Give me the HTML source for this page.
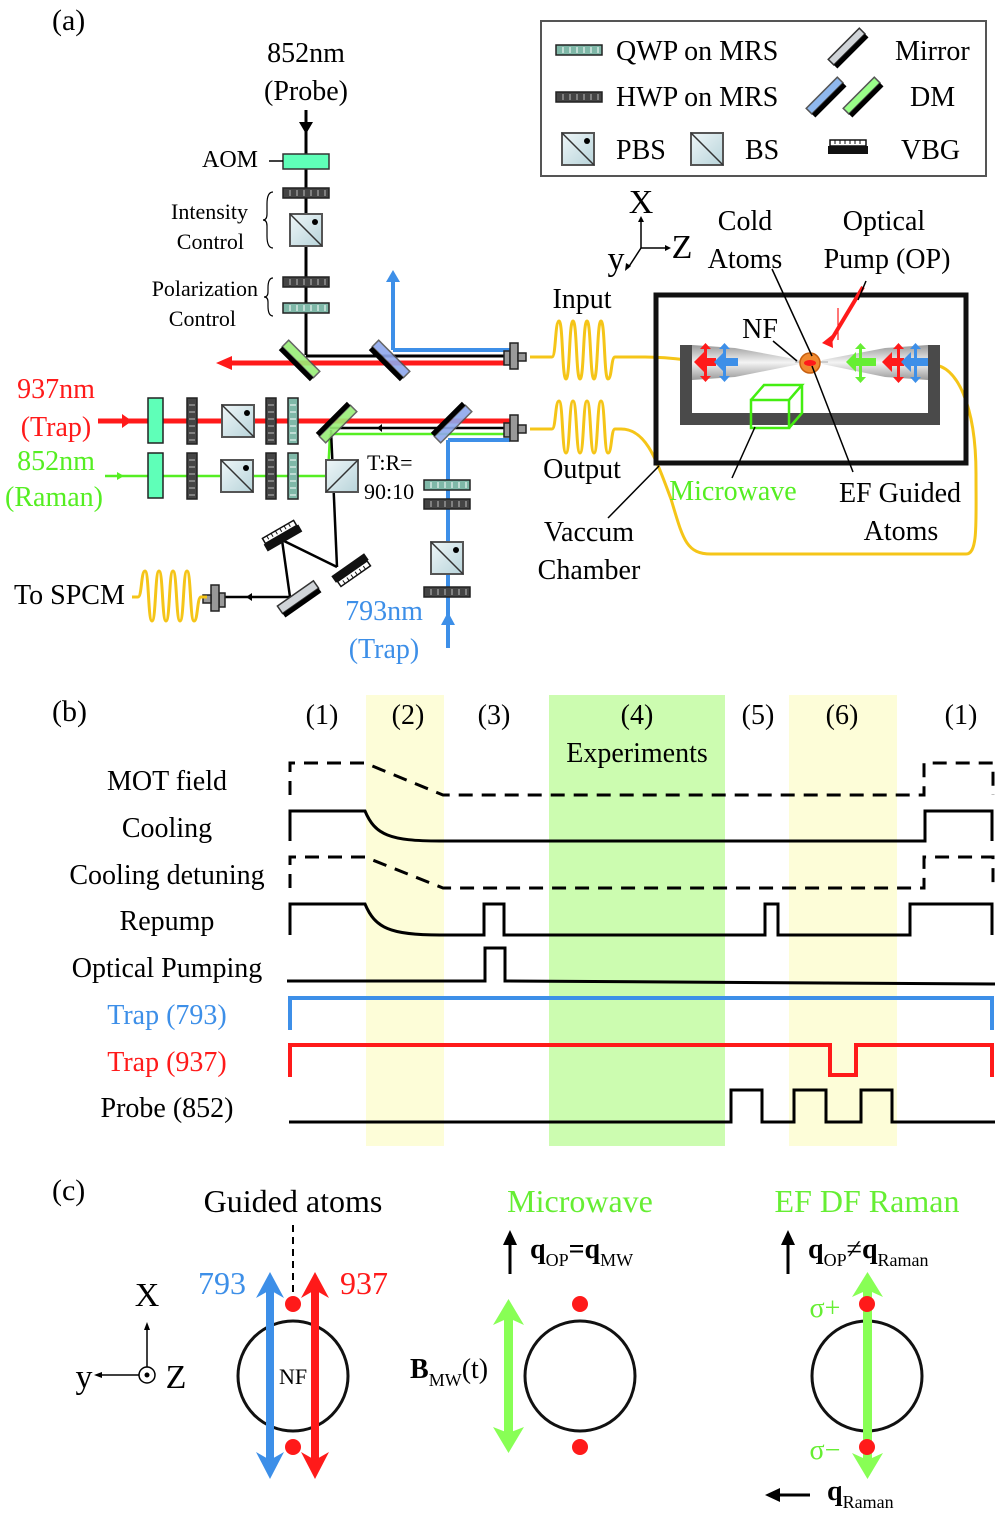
<!DOCTYPE html>
<html><head><meta charset="utf-8"><style>
html,body{margin:0;padding:0;background:#fff;}
svg, svg text{font-family:"Liberation Serif","DejaVu Serif","Times New Roman",serif;}
svg{display:block;}
</style></head><body>
<svg width="996" height="1520" viewBox="0 0 996 1520" xmlns="http://www.w3.org/2000/svg" font-family="Liberation Serif, DejaVu Serif, serif">
<defs>
  <g id="hwp"><rect x="-23" y="-5" width="46" height="10" fill="#444" stroke="#222" stroke-width="1.5"/><g stroke="#bbb" stroke-width="1"><line x1="-16" y1="-3" x2="-16" y2="3"/><line x1="-9" y1="-3" x2="-9" y2="3"/><line x1="-2" y1="-3" x2="-2" y2="3"/><line x1="5" y1="-3" x2="5" y2="3"/><line x1="12" y1="-3" x2="12" y2="3"/><line x1="19" y1="-3" x2="19" y2="3"/></g></g>
  <g id="qwp"><rect x="-23" y="-5" width="46" height="10" fill="#7fb8a8" stroke="#222" stroke-width="1.5"/><g stroke="#fff" stroke-width="1"><line x1="-16" y1="-3" x2="-16" y2="3"/><line x1="-9" y1="-3" x2="-9" y2="3"/><line x1="-2" y1="-3" x2="-2" y2="3"/><line x1="5" y1="-3" x2="5" y2="3"/><line x1="12" y1="-3" x2="12" y2="3"/><line x1="19" y1="-3" x2="19" y2="3"/></g></g>
  <linearGradient id="bsg" x1="0" y1="0" x2="1" y2="1"><stop offset="0" stop-color="#eef6f8"/><stop offset="1" stop-color="#b8d4da"/></linearGradient>
  <g id="bs"><rect x="-16" y="-16" width="32" height="32" fill="url(#bsg)" stroke="#555" stroke-width="2"/><line x1="-16" y1="-16" x2="16" y2="16" stroke="#333" stroke-width="1.5"/></g>
  <g id="pbs"><use href="#bs"/><circle cx="9" cy="-8" r="3" fill="#000"/></g>
  <g id="bs2"><rect x="-16" y="-16" width="32" height="32" fill="url(#bsg)" stroke="#555" stroke-width="2"/><line x1="-16" y1="16" x2="16" y2="-16" stroke="#333" stroke-width="1.5"/></g>
  <g id="cpl"><rect x="-12" y="-4" width="6" height="14" fill="#999" stroke="#222" stroke-width="1.5"/><rect x="-6" y="-12" width="8" height="26" fill="#999" stroke="#222" stroke-width="1.5"/><rect x="2" y="-2" width="8" height="8" fill="#999" stroke="#222" stroke-width="1.5"/></g>
  <g id="vbg"><rect x="-20" y="-4" width="40" height="8" fill="#111"/><rect x="-18" y="-10" width="36" height="6" fill="#fff" stroke="#111" stroke-width="1.5"/><g stroke="#111" stroke-width="1"><line x1="-13" y1="-10" x2="-13" y2="-6"/><line x1="-8" y1="-10" x2="-8" y2="-6"/><line x1="-3" y1="-10" x2="-3" y2="-6"/><line x1="2" y1="-10" x2="2" y2="-6"/><line x1="7" y1="-10" x2="7" y2="-6"/><line x1="12" y1="-10" x2="12" y2="-6"/></g></g>
  <linearGradient id="cone" x1="0" y1="0" x2="0" y2="1"><stop offset="0" stop-color="#999"/><stop offset="0.5" stop-color="#f4f4f4"/><stop offset="1" stop-color="#999"/></linearGradient>
</defs>

<text x="52" y="30" font-size="30">(a)</text>

<rect x="541" y="21" width="445" height="155" fill="#fff" stroke="#555" stroke-width="2"/>
<use href="#qwp" x="579" y="50"/>
<text x="616" y="60" font-size="28">QWP on MRS</text>
<use href="#hwp" x="579" y="97"/>
<text x="616" y="106" font-size="28">HWP on MRS</text>
<use href="#pbs" x="578" y="149"/>
<text x="616" y="159" font-size="28">PBS</text>
<use href="#bs" x="707" y="149"/>
<text x="745" y="159" font-size="28">BS</text>
<g transform="translate(848,48) rotate(-45)"><rect x="-22" y="-6" width="44" height="8" fill="#d0d4d8" stroke="#333" stroke-width="1.5"/><rect x="-22" y="2" width="44" height="5" fill="#000"/></g>
<text x="895" y="60" font-size="28">Mirror</text>
<g transform="translate(826,97) rotate(-45)"><rect x="-22" y="-6" width="44" height="8" fill="#8fb8ee" stroke="#555" stroke-width="1.5"/><rect x="-22" y="2" width="44" height="5" fill="#000"/></g>
<g transform="translate(863,97) rotate(-45)"><rect x="-22" y="-6" width="44" height="8" fill="#99ff88" stroke="#555" stroke-width="1.5"/><rect x="-22" y="2" width="44" height="5" fill="#000"/></g>
<text x="910" y="106" font-size="28">DM</text>
<use href="#vbg" x="848" y="150"/>
<text x="901" y="159" font-size="28">VBG</text>

<text x="306" y="62" font-size="28" text-anchor="middle">852nm</text>
<text x="306" y="100" font-size="28" text-anchor="middle">(Probe)</text>
<line x1="306" y1="110" x2="306" y2="355" stroke="#000" stroke-width="3"/>
<polygon points="299,122 313,122 306,134" fill="#000"/>
<rect x="283" y="154" width="46" height="15" fill="#5fffb8" stroke="#333" stroke-width="1.5"/>
<text x="258" y="167" font-size="24" text-anchor="end">AOM</text>
<line x1="269" y1="161" x2="283" y2="161" stroke="#000" stroke-width="1.5"/>
<use href="#hwp" x="306" y="193"/>
<use href="#pbs" x="306" y="230"/>
<text x="248" y="219" font-size="22" text-anchor="end">Intensity</text>
<text x="244" y="249" font-size="22" text-anchor="end">Control</text>
<path d="M273,192 q-6,0 -6,12 v10 q0,6 -4,6 q4,0 4,6 v10 q0,12 6,12" fill="none" stroke="#000" stroke-width="1.2"/>
<use href="#hwp" x="306" y="282"/>
<use href="#qwp" x="306" y="308"/>
<text x="258" y="296" font-size="22" text-anchor="end">Polarization</text>
<text x="236" y="326" font-size="22" text-anchor="end">Control</text>
<path d="M273,278 q-5,0 -5,10 v4 q0,5 -4,5 q4,0 4,5 v4 q0,10 5,10" fill="none" stroke="#000" stroke-width="1.2"/>

<line x1="393" y1="282" x2="393" y2="350" stroke="#3d8fe8" stroke-width="4"/>
<polygon points="386,282 400,282 393,270" fill="#3d8fe8"/>
<line x1="393" y1="350" x2="510" y2="350" stroke="#3d8fe8" stroke-width="4"/>
<line x1="306" y1="356" x2="510" y2="356" stroke="#000" stroke-width="3"/>
<line x1="232" y1="363" x2="510" y2="363" stroke="#ff1a1a" stroke-width="5"/>
<polygon points="232,356 232,370 216,363" fill="#ff1a1a"/>
<g transform="translate(300,360) rotate(45)"><rect x="-22" y="-6" width="44" height="9" fill="#99ee77" stroke="#555" stroke-width="1.5" opacity="0.9"/><rect x="-22" y="3" width="44" height="5" fill="#000"/></g>
<g transform="translate(390,360) rotate(45)"><rect x="-22" y="-6" width="44" height="9" fill="#8fa8ee" stroke="#555" stroke-width="1.5" opacity="0.9"/><rect x="-22" y="3" width="44" height="5" fill="#000"/></g>
<use href="#cpl" x="516" y="355"/>

<text x="56" y="398" font-size="28" fill="#ff1a1a" text-anchor="middle">937nm</text>
<text x="56" y="436" font-size="28" fill="#ff1a1a" text-anchor="middle">(Trap)</text>
<text x="56" y="470" font-size="28" fill="#55ee22" text-anchor="middle">852nm</text>
<text x="54" y="506" font-size="28" fill="#55ee22" text-anchor="middle">(Raman)</text>
<line x1="98" y1="421" x2="510" y2="421" stroke="#ff1a1a" stroke-width="5"/>
<polygon points="122,414 122,428 132,421" fill="#ff1a1a"/>
<line x1="105" y1="476" x2="340" y2="476" stroke="#55ee22" stroke-width="2.5"/>
<polygon points="117,472 117,480 124,476" fill="#55ee22"/>
<rect x="148" y="398" width="15" height="45" fill="#5fffb8" stroke="#222" stroke-width="1.5"/>
<rect x="148" y="453" width="15" height="45" fill="#5fffb8" stroke="#222" stroke-width="1.5"/>
<use href="#hwp" transform="translate(192,421) rotate(90)"/>
<use href="#hwp" transform="translate(192,476) rotate(90)"/>
<use href="#pbs" x="238" y="421"/>
<use href="#pbs" x="237" y="476"/>
<use href="#hwp" transform="translate(271,421) rotate(90)"/>
<use href="#hwp" transform="translate(271,476) rotate(90)"/>
<use href="#qwp" transform="translate(293,421) rotate(90)"/>
<use href="#qwp" transform="translate(293,476) rotate(90)"/>

<line x1="330" y1="428" x2="510" y2="428" stroke="#000" stroke-width="2.5"/>
<polygon points="382,424 382,432 377,428" fill="#000"/>
<line x1="330" y1="434" x2="510" y2="434" stroke="#55ee22" stroke-width="2.5"/>
<line x1="330" y1="434" x2="328" y2="476" stroke="#55ee22" stroke-width="2.5"/>
<line x1="448" y1="440" x2="510" y2="440" stroke="#3d8fe8" stroke-width="4"/>
<line x1="448" y1="440" x2="448" y2="648" stroke="#3d8fe8" stroke-width="4"/>
<polygon points="441,625 455,625 448,612" fill="#3d8fe8"/>
<line x1="331" y1="430" x2="337" y2="567" stroke="#000" stroke-width="2.5"/>
<g transform="translate(337,423) rotate(-45)"><rect x="-22" y="-3" width="44" height="9" fill="#99ee77" stroke="#555" stroke-width="1.5" opacity="0.9"/><rect x="-22" y="-8" width="44" height="5" fill="#000"/></g>
<g transform="translate(452,423) rotate(-45)"><rect x="-22" y="-3" width="44" height="9" fill="#8fa8ee" stroke="#555" stroke-width="1.5" opacity="0.9"/><rect x="-22" y="-8" width="44" height="5" fill="#000"/></g>
<use href="#bs2" x="342" y="476"/>
<use href="#cpl" x="516" y="427"/>
<text x="367" y="470" font-size="22">T:R=</text>
<text x="364" y="499" font-size="22">90:10</text>
<use href="#qwp" x="447" y="485"/>
<use href="#hwp" x="447" y="504"/>
<use href="#pbs" x="447" y="558"/>
<use href="#hwp" x="447" y="592"/>
<text x="384" y="620" font-size="28" fill="#3d8fe8" text-anchor="middle">793nm</text>
<text x="384" y="658" font-size="28" fill="#3d8fe8" text-anchor="middle">(Trap)</text>

<line x1="337" y1="567" x2="282" y2="540" stroke="#000" stroke-width="2.5"/>
<line x1="282" y1="540" x2="290" y2="597" stroke="#000" stroke-width="2.5"/>
<line x1="222" y1="597" x2="290" y2="597" stroke="#000" stroke-width="2.5"/>
<polygon points="252,593 252,601 246,597" fill="#000"/>
<use href="#vbg" transform="translate(283,538) rotate(-30)"/>
<use href="#vbg" transform="translate(350,568) rotate(-35) scale(1,-1)"/>
<g transform="translate(300,600) rotate(-35)"><rect x="-22" y="-8" width="44" height="9" fill="#d0d4d8" stroke="#333" stroke-width="1.5"/><rect x="-22" y="1" width="44" height="5" fill="#000"/></g>
<use href="#cpl" transform="translate(213,597) scale(-1,1)"/>
<text x="14" y="604" font-size="28">To SPCM</text>
<path d="M132,597 h6 c4,0 3,-26 7,-26 s3,50 7,50 s3,-50 7,-50 s3,50 7,50 s3,-50 7,-50 s3,50 7,50 s3,-50 7,-50 s3,50 7,50 c4,0 3,-24 7,-24 h6" fill="none" stroke="#f5c518" stroke-width="3"/>

<path d="M530,357 h22 c4,0 3,-36 7,-36 s3,58 7,58 s3,-58 7,-58 s3,58 7,58 s3,-58 7,-58 s3,58 7,58 s3,-58 7,-58 s3,58 7,58 c4,0 3,-22 7,-22 h30 c40,0 55,8 80,4" fill="none" stroke="#f5c518" stroke-width="3"/>
<path d="M530,429 h22 c4,0 3,-28 7,-28 s3,52 7,52 s3,-52 7,-52 s3,52 7,52 s3,-52 7,-52 s3,52 7,52 s3,-52 7,-52 s3,52 7,52 c4,0 3,-24 7,-24 h6 c25,0 35,30 50,70 c12,40 15,55 40,55 h255 c12,0 10,-30 10,-80 c0,-70 -20,-109 -43,-109" fill="none" stroke="#f5c518" stroke-width="3"/>
<text x="582" y="308" font-size="28" text-anchor="middle">Input</text>
<text x="582" y="478" font-size="28" text-anchor="middle">Output</text>

<rect x="656" y="295" width="310" height="168" fill="none" stroke="#111" stroke-width="5"/>
<path d="M680,345 h12 v68 h236 v-68 h12 v80 h-260 z" fill="#4a4a4a"/>
<polygon points="692,345 735,348 800,360 800,364 735,377 692,380" fill="url(#cone)"/>
<polygon points="928,345 885,348 822,360 822,364 885,377 928,380" fill="url(#cone)"/>
<line x1="795" y1="362" x2="828" y2="362" stroke="#ccc" stroke-width="2"/>
<circle cx="810" cy="363" r="10" fill="#f08a30" stroke="#c86010" stroke-width="1.5"/>
<ellipse cx="810" cy="363" rx="6" ry="3" fill="#ff1a1a"/>
<g fill="#ff1a1a"><polygon points="694,362 704,352 704,358 716,358 716,366 704,366 704,372"/><rect x="704" y="347" width="3" height="32"/><polygon points="700,349 705.5,343 711,349"/><polygon points="700,376 705.5,382 711,376"/></g>
<g fill="#3d8fe8"><polygon points="714,362 724,352 724,358 738,358 738,366 724,366 724,372"/><rect x="723" y="347" width="3" height="32"/><polygon points="719,349 724.5,343 730,349"/><polygon points="719,376 724.5,382 730,376"/></g>
<g fill="#66ee33"><polygon points="846,362 856,352 856,358 876,358 876,366 856,366 856,372"/><rect x="859" y="346" width="3" height="34"/><polygon points="855,349 860.5,343 866,349"/><polygon points="855,377 860.5,383 866,377"/></g>
<g fill="#ff1a1a"><polygon points="882,362 892,352 892,358 904,358 904,366 892,366 892,372"/><rect x="897" y="346" width="3" height="34"/><polygon points="893,349 898.5,343 904,349"/><polygon points="893,377 898.5,383 904,377"/></g>
<g fill="#3d8fe8"><polygon points="901,362 911,352 911,358 928,358 928,366 911,366 911,372"/><rect x="914" y="346" width="3" height="34"/><polygon points="910,349 915.5,343 921,349"/><polygon points="910,377 915.5,383 921,377"/></g>
<line x1="863" y1="287" x2="830" y2="342" stroke="#ff1a1a" stroke-width="4"/>
<polygon points="822,343 832,335 833,348" fill="#ff1a1a"/>
<line x1="838" y1="308" x2="838" y2="340" stroke="#ff1a1a" stroke-width="1.2"/>
<g fill="none" stroke="#44ee11" stroke-width="2.5"><rect x="751" y="400" width="38" height="28"/><path d="M751,400 l13,-15 h38 l-13,15 M802,385 v28 l-13,15"/></g>
<g stroke="#000" stroke-width="1.5"><line x1="772" y1="269" x2="812" y2="356"/><line x1="812" y1="366" x2="853" y2="472"/><line x1="773" y1="341" x2="797" y2="361"/><line x1="755" y1="427" x2="732" y2="478"/><line x1="659" y1="466" x2="608" y2="518"/><line x1="866" y1="281" x2="858" y2="300"/></g>
<text x="745" y="230" font-size="28" text-anchor="middle">Cold</text>
<text x="745" y="268" font-size="28" text-anchor="middle">Atoms</text>
<text x="884" y="230" font-size="28" text-anchor="middle">Optical</text>
<text x="887" y="268" font-size="28" text-anchor="middle">Pump (OP)</text>
<text x="760" y="338" font-size="28" text-anchor="middle">NF</text>
<text x="733" y="500" font-size="28" fill="#55ee22" text-anchor="middle">Microwave</text>
<text x="900" y="502" font-size="28" text-anchor="middle">EF Guided</text>
<text x="901" y="540" font-size="28" text-anchor="middle">Atoms</text>
<text x="589" y="541" font-size="28" text-anchor="middle">Vaccum</text>
<text x="589" y="579" font-size="28" text-anchor="middle">Chamber</text>
<g stroke="#000" stroke-width="1.5"><line x1="641" y1="248" x2="641" y2="220"/><line x1="641" y1="248" x2="667" y2="248"/><line x1="641" y1="248" x2="628" y2="268"/></g>
<polygon points="638,222 644,222 641,216" fill="#000"/><polygon points="665,245 665,251 671,248" fill="#000"/><polygon points="626,263 631,266 625,271" fill="#000"/>
<text x="641" y="213" font-size="34" text-anchor="middle">X</text>
<text x="682" y="258" font-size="34" text-anchor="middle">Z</text>
<text x="616" y="270" font-size="34" text-anchor="middle">y</text>

<text x="52" y="721" font-size="30">(b)</text>
<rect x="366" y="695" width="78" height="451" fill="#fdfdd8"/>
<rect x="549" y="695" width="176" height="451" fill="#ccfcb0"/>
<rect x="789" y="695" width="108" height="451" fill="#fdfdd8"/>
<g font-size="28" text-anchor="middle">
<text x="322" y="724">(1)</text><text x="408" y="724">(2)</text><text x="494" y="724">(3)</text><text x="637" y="724">(4)</text>
<text x="637" y="762">Experiments</text><text x="758" y="724">(5)</text><text x="842" y="724">(6)</text><text x="961" y="724">(1)</text>
<text x="167" y="790">MOT field</text>
<text x="167" y="837">Cooling</text>
<text x="167" y="884">Cooling detuning</text>
<text x="167" y="930">Repump</text>
<text x="167" y="977">Optical Pumping</text>
<text x="167" y="1024" fill="#3d8fe8">Trap (793)</text>
<text x="167" y="1071" fill="#ff1a1a">Trap (937)</text>
<text x="167" y="1117">Probe (852)</text>
</g>
<g fill="none" stroke="#000" stroke-width="3">
<path d="M290,795 V763 H365 L443,795 H924 V763 H993 V795" stroke-dasharray="14,9"/>
<path d="M290,841 V811 H365 C375,835 390,841 440,841 H925 V811 H992 V841"/>
<path d="M290,888 V857 H365 L443,888 H924 V857 H993 V888" stroke-dasharray="14,9"/>
<path d="M290,935 V904 H365 C375,928 390,935 440,935 H484 V904 H504 V935 H765 V904 H778 V935 H910 V904 H992 V935"/>
<path d="M287,981 H485 V948 H505 V981 L995,984"/>
<path d="M289,1122 H731 V1090 H762 V1122 H794 V1090 H826 V1122 H861 V1090 H892 V1122 H995"/>
</g>
<path d="M290,1030 V998 H992 V1030" fill="none" stroke="#3d8fe8" stroke-width="4"/>
<path d="M290,1077 V1045 H830 V1075 H856 V1045 H992 V1077" fill="none" stroke="#ff1a1a" stroke-width="4"/>

<text x="52" y="1200" font-size="30">(c)</text>
<text x="293" y="1212" font-size="32" text-anchor="middle">Guided atoms</text>
<text x="580" y="1212" font-size="32" fill="#66ee33" text-anchor="middle">Microwave</text>
<text x="867" y="1212" font-size="32" fill="#66ee33" text-anchor="middle">EF DF Raman</text>
<text x="147" y="1306" font-size="34" text-anchor="middle">X</text>
<line x1="147" y1="1367" x2="147" y2="1328" stroke="#000" stroke-width="1.5"/><polygon points="144,1330 150,1330 147,1322" fill="#000"/>
<circle cx="147" cy="1375" r="8" fill="none" stroke="#000" stroke-width="1.5"/><circle cx="147" cy="1375" r="2.5" fill="#000"/>
<line x1="139" y1="1375" x2="100" y2="1375" stroke="#000" stroke-width="1.5"/><polygon points="102,1372 102,1378 94,1375" fill="#000"/>
<text x="84" y="1388" font-size="34" text-anchor="middle">y</text>
<text x="176" y="1388" font-size="34" text-anchor="middle">Z</text>
<line x1="293" y1="1225" x2="293" y2="1297" stroke="#000" stroke-width="2" stroke-dasharray="7,5"/>
<circle cx="293" cy="1376" r="55" fill="none" stroke="#111" stroke-width="3"/>
<text x="293" y="1384" font-size="22" text-anchor="middle">NF</text>
<g fill="#3d8fe8"><rect x="266" y="1290" width="8" height="170"/><polygon points="256,1298 270,1272 284,1298 270,1290"/><polygon points="256,1452 270,1479 284,1452 270,1460"/></g>
<g fill="#ff1a1a"><rect x="311" y="1290" width="8" height="170"/><polygon points="301,1298 315,1272 329,1298 315,1290"/><polygon points="301,1452 315,1479 329,1452 315,1460"/></g>
<circle cx="293" cy="1304" r="8" fill="#ff1a1a"/><circle cx="293" cy="1447" r="8" fill="#ff1a1a"/>
<text x="222" y="1294" font-size="32" fill="#3d8fe8" text-anchor="middle">793</text>
<text x="364" y="1294" font-size="32" fill="#ff1a1a" text-anchor="middle">937</text>
<circle cx="580" cy="1376" r="55" fill="none" stroke="#111" stroke-width="3"/>
<circle cx="580" cy="1304" r="8" fill="#ff1a1a"/><circle cx="580" cy="1447" r="8" fill="#ff1a1a"/>
<g fill="#88ff55"><rect x="504" y="1318" width="9" height="115"/><polygon points="493,1325 508.5,1299 524,1325 508.5,1318"/><polygon points="493,1427 508.5,1453 524,1427 508.5,1433"/></g>
<text x="410" y="1378" font-size="28" font-weight="bold">B<tspan font-size="18" font-weight="normal" dy="8">MW</tspan><tspan font-weight="normal" dy="-8">(t)</tspan></text>
<line x1="510" y1="1274" x2="510" y2="1240" stroke="#000" stroke-width="3"/><polygon points="503,1245 517,1245 510,1230" fill="#000"/>
<text x="530" y="1258" font-size="28" font-weight="bold">q<tspan font-size="18" font-weight="normal" dy="8">OP</tspan><tspan dy="-8">=q</tspan><tspan font-size="18" font-weight="normal" dy="8">MW</tspan></text>
<circle cx="867" cy="1376" r="55" fill="none" stroke="#111" stroke-width="3"/>
<g fill="#88ff55"><rect x="863" y="1290" width="9" height="170"/><polygon points="852,1297 867.5,1272 883,1297 867.5,1290"/><polygon points="852,1453 867.5,1479 883,1453 867.5,1460"/></g>
<circle cx="867" cy="1304" r="8" fill="#ff1a1a"/><circle cx="867" cy="1447" r="8" fill="#ff1a1a"/>
<text x="825" y="1317" font-size="28" fill="#66ee33" text-anchor="middle">σ+</text>
<text x="825" y="1459" font-size="28" fill="#66ee33" text-anchor="middle">σ−</text>
<line x1="788" y1="1274" x2="788" y2="1240" stroke="#000" stroke-width="3"/><polygon points="781,1245 795,1245 788,1230" fill="#000"/>
<text x="808" y="1258" font-size="28" font-weight="bold">q<tspan font-size="18" font-weight="normal" dy="8">OP</tspan><tspan font-weight="normal" dy="-8">≠</tspan>q<tspan font-size="18" font-weight="normal" dy="8">Raman</tspan></text>
<line x1="810" y1="1495" x2="775" y2="1495" stroke="#000" stroke-width="3"/><polygon points="780,1488 780,1502 765,1495" fill="#000"/>
<text x="827" y="1500" font-size="28" font-weight="bold">q<tspan font-size="18" font-weight="normal" dy="8">Raman</tspan></text>
</svg>
</body></html>
